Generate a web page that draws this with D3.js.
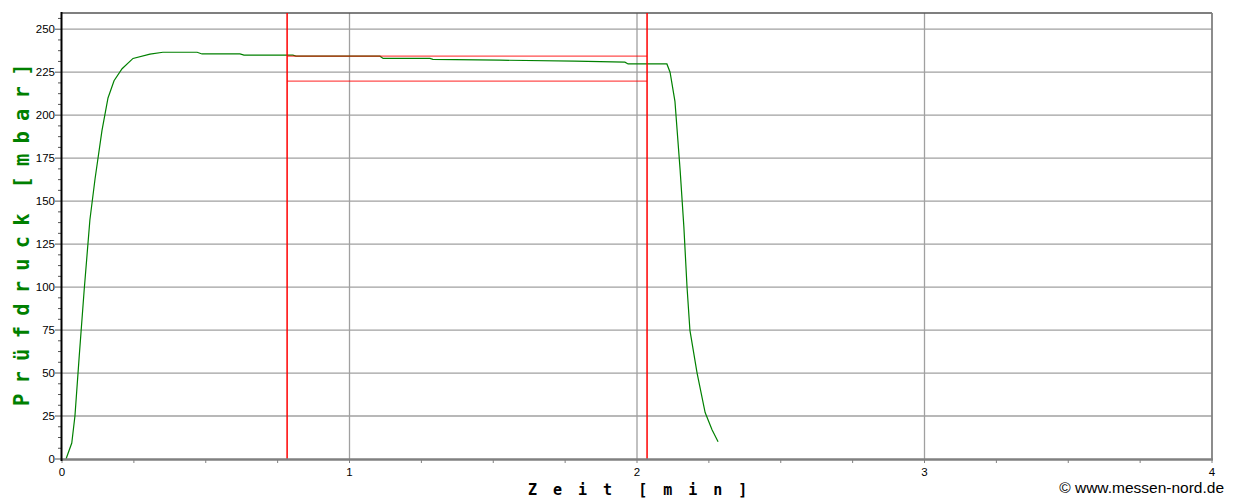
<!DOCTYPE html>
<html>
<head>
<meta charset="utf-8">
<script src="https://cdn.jsdelivr.net/npm/d3@7"></script>
<style>
   html, body { margin: 0; padding: 0; background: #fff; }
   svg { display: block; }
   .tick-label { font-family: "Liberation Sans", Arial, sans-serif; font-size: 11.5px; fill: #000; }
</style>
</head>
<body>
<script>
// Prüfdruck over time
const timeMin = [0.014, 0.034, 0.045, 0.060, 0.077, 0.097, 0.115, 0.139, 0.160, 0.181, 0.209, 0.247,
   0.306, 0.351, 0.470, 0.487, 0.619, 0.633, 0.803, 0.814, 1.106, 1.117, 1.280, 1.290, 1.523, 1.784,
   1.958, 1.969, 2.104, 2.115, 2.132, 2.150, 2.163, 2.174, 2.184, 2.209, 2.237, 2.261, 2.282];
const pressure = [0, 9.3, 25, 60, 98, 139, 163, 191, 210, 220, 227, 233,
   235.5, 236.6, 236.6, 235.6, 235.6, 234.9, 234.9, 234.3, 234.3, 233, 233, 232.5, 232, 231.4,
   230.8, 229.8, 229.8, 225, 208, 168, 135, 100, 75, 50, 27, 17, 10];

const xTicks = [0, 1, 2, 3, 4];
const yTicks = [0, 25, 50, 75, 100, 125, 150, 175, 200, 225, 250];

// red test window: start/end times and upper/lower pressure limits
const markerTimes = [0.783, 2.035];
const markerLevels = [234.3, 219.8];

const o = {
   width: 1234,
   height: 499,
   margins: { top: 12, left: 62, right: 22, bottom: 40 }
};

let svg = d3.select("body").append("svg")
   .attr("width", o.width)
   .attr("height", o.height);

let x = d3.scaleLinear()
   .domain([0, 4])
   .range([o.margins.left, o.width - o.margins.right]);

let y = d3.scaleLinear()
   .domain([0, 260])
   .range([o.height - o.margins.bottom, o.margins.top]);

let x0 = x(0), x1 = x(4), y0 = y(0), yTop = y(259.4);

// grid
svg.append("g").selectAll("line")
   .data(yTicks.filter(d => d > 0))
 .enter().append("line")
   .attr("x1", x0).attr("x2", x1)
   .attr("y1", d => y(d)).attr("y2", d => y(d))
   .attr("stroke", "#a0a0a0").attr("stroke-width", 1.3);

svg.append("g").selectAll("line")
   .data(xTicks.filter(d => d > 0 && d < 4))
 .enter().append("line")
   .attr("x1", d => x(d)).attr("x2", d => x(d))
   .attr("y1", yTop).attr("y2", y0)
   .attr("stroke", "#a0a0a0").attr("stroke-width", 1.3);

// frame
svg.append("line")
   .attr("x1", x0).attr("x2", x1).attr("y1", yTop).attr("y2", yTop)
   .attr("stroke", "#555").attr("stroke-width", 1.6);
svg.append("line")
   .attr("x1", x1).attr("x2", x1).attr("y1", yTop).attr("y2", y0)
   .attr("stroke", "#808080").attr("stroke-width", 1.8);

// y minor / major ticks
let yMinor = d3.range(0, 260, 6.25).filter(d => d % 25 !== 0);
svg.append("g").selectAll("line")
   .data(yMinor)
 .enter().append("line")
   .attr("x1", x0 - 4).attr("x2", x0)
   .attr("y1", d => y(d)).attr("y2", d => y(d))
   .attr("stroke", "#555").attr("stroke-width", 1);

svg.append("g").selectAll("line")
   .data(yTicks)
 .enter().append("line")
   .attr("x1", x0 - 7).attr("x2", x0)
   .attr("y1", d => y(d)).attr("y2", d => y(d))
   .attr("stroke", "#555").attr("stroke-width", 1);

svg.append("g").selectAll("text")
   .data(yTicks)
 .enter().append("text")
   .attr("class", "tick-label")
   .attr("x", x0 - 7)
   .attr("y", d => y(d))
   .attr("dy", "0.35em")
   .attr("text-anchor", "end")
   .text(d => d);

// x minor ticks
let xMinor = d3.range(0, 4.01, 0.25);
svg.append("g").selectAll("line")
   .data(xMinor)
 .enter().append("line")
   .attr("x1", d => x(d)).attr("x2", d => x(d))
   .attr("y1", y0).attr("y2", y0 + 4)
   .attr("stroke", "#808080").attr("stroke-width", 1);

svg.append("g").selectAll("text")
   .data(xTicks)
 .enter().append("text")
   .attr("class", "tick-label")
   .attr("x", d => x(d))
   .attr("y", y0 + 17)
   .attr("text-anchor", "middle")
   .text(d => d);

// curve
svg.append("path")
   .datum(timeMin.map((t, i) => [t, pressure[i]]))
   .attr("fill", "none")
   .attr("stroke", "#008000")
   .attr("stroke-width", 1.2)
   .attr("d", d3.line()
      .x(d => x(d[0]))
      .y(d => y(d[1])));

// red test window
svg.append("g").selectAll("line")
   .data(markerLevels)
 .enter().append("line")
   .attr("x1", x(markerTimes[0])).attr("x2", x(markerTimes[1]))
   .attr("y1", d => y(d)).attr("y2", d => y(d))
   .attr("stroke", "#ff0000").attr("stroke-opacity", 0.7).attr("stroke-width", 1.3);

svg.append("g").selectAll("line")
   .data(markerTimes)
 .enter().append("line")
   .attr("x1", d => x(d)).attr("x2", d => x(d))
   .attr("y1", yTop).attr("y2", y0)
   .attr("stroke", "#ff0000").attr("stroke-width", 1.5);

// axes lines on top
svg.append("line")
   .attr("x1", x0).attr("x2", x1 + 1).attr("y1", y0 + 0.5).attr("y2", y0 + 0.5)
   .attr("stroke", "#808080").attr("stroke-width", 2.5);
svg.append("line")
   .attr("x1", x0 - 0.5).attr("x2", x0 - 0.5).attr("y1", yTop - 1).attr("y2", y0 + 2)
   .attr("stroke", "#000").attr("stroke-width", 2);

// titles
svg.append("text")
   .attr("x", 528)
   .attr("y", 495)
   .attr("font-family", "DejaVu Sans Mono, monospace")
   .attr("font-weight", "bold")
   .attr("font-size", 15)
   .attr("letter-spacing", 16)
   .attr("word-spacing", -15)
   .attr("fill", "#000")
   .text("Zeit [min]");

svg.append("text")
   .attr("transform", "translate(29,406) rotate(-90)")
   .attr("font-family", "DejaVu Sans Mono, monospace")
   .attr("font-weight", "bold")
   .attr("font-size", 20.5)
   .attr("letter-spacing", 10.2)
   .attr("word-spacing", -8)
   .attr("fill", "#008000")
   .text("Prüfdruck [mbar]");

svg.append("text")
   .attr("x", 1224)
   .attr("y", 493)
   .attr("text-anchor", "end")
   .attr("font-family", "Liberation Sans, Arial, sans-serif")
   .attr("font-size", 15.5)
   .attr("fill", "#000")
   .text("© www.messen-nord.de");
</script>
</body>
</html>
